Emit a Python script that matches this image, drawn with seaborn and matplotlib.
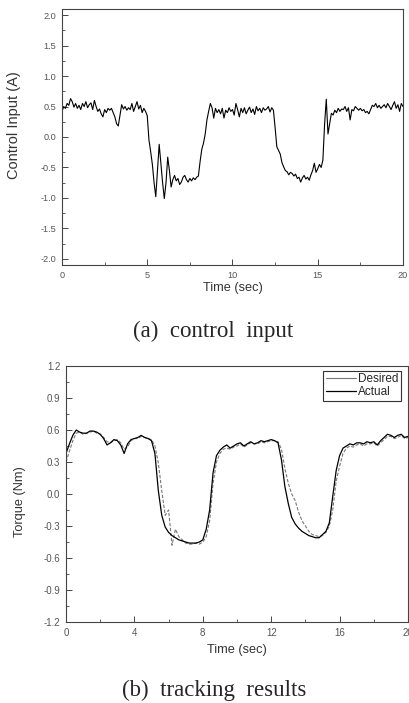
import numpy as np
import pandas as pd
import matplotlib
matplotlib.use("Agg")
import matplotlib.pyplot as plt
from matplotlib.ticker import MultipleLocator, FormatStrFormatter
from matplotlib.lines import Line2D
import seaborn as sns

# ---------------- data ----------------
# (a) control input, sampled every 0.1 s from 0 to 20 s
time_a = [round(0.1 * i, 1) for i in range(201)]
control_input = [
    0.42, 0.50, 0.47, 0.55, 0.52, 0.63, 0.58, 0.49, 0.55, 0.47,
    0.52, 0.45, 0.55, 0.50, 0.58, 0.48, 0.53, 0.56, 0.45, 0.60,
    0.50, 0.42, 0.46, 0.38, 0.33, 0.45, 0.40, 0.47, 0.44, 0.47,
    0.40, 0.33, 0.22, 0.18, 0.35, 0.53, 0.46, 0.50, 0.44, 0.48,
    0.45, 0.55, 0.42, 0.50, 0.58, 0.46, 0.52, 0.40, 0.47, 0.42,
    0.35, -0.05, -0.24, -0.45, -0.75, -0.98, -0.55, -0.12, -0.43, -0.75,
    -1.01, -0.75, -0.33, -0.55, -0.82, -0.70, -0.63, -0.72, -0.68, -0.78,
    -0.74, -0.66, -0.63, -0.70, -0.74, -0.68, -0.72, -0.67, -0.70, -0.66,
    -0.64, -0.40, -0.20, -0.10, 0.05, 0.28, 0.42, 0.55, 0.48, 0.31,
    0.47, 0.40, 0.45, 0.38, 0.47, 0.31, 0.44, 0.40, 0.48, 0.42,
    0.45, 0.36, 0.55, 0.45, 0.33, 0.47, 0.40, 0.48, 0.38, 0.44,
    0.49, 0.40, 0.46, 0.37, 0.50, 0.43, 0.47, 0.40, 0.48, 0.44,
    0.46, 0.50, 0.41, 0.48, 0.44, 0.15, -0.16, -0.22, -0.28, -0.42,
    -0.49, -0.55, -0.57, -0.62, -0.58, -0.60, -0.64, -0.61, -0.68, -0.66,
    -0.74, -0.67, -0.63, -0.69, -0.66, -0.71, -0.62, -0.55, -0.43, -0.58,
    -0.52, -0.45, -0.50, -0.38, 0.20, 0.62, 0.05, 0.22, 0.39, 0.36,
    0.44, 0.40, 0.47, 0.42, 0.46, 0.45, 0.50, 0.42, 0.48, 0.28,
    0.45, 0.43, 0.50, 0.47, 0.44, 0.47, 0.43, 0.45, 0.40, 0.42,
    0.38, 0.45, 0.52, 0.50, 0.55, 0.48, 0.52, 0.47, 0.50, 0.53,
    0.48, 0.55, 0.50, 0.45, 0.52, 0.58, 0.47, 0.53, 0.42, 0.55,
    0.50,
]

# (b) tracking results, sampled every 0.2 s from 0 to 20 s
time_b = [round(0.2 * i, 1) for i in range(101)]
torque_actual = [
    0.38, 0.47, 0.55, 0.60, 0.58, 0.57, 0.57, 0.59, 0.59, 0.58,
    0.56, 0.52, 0.46, 0.48, 0.51, 0.50, 0.46, 0.38, 0.47, 0.51,
    0.52, 0.53, 0.55, 0.53, 0.52, 0.50, 0.38, 0.03, -0.20, -0.31,
    -0.36, -0.39, -0.41, -0.43, -0.44, -0.45, -0.46, -0.46, -0.46, -0.45,
    -0.43, -0.33, -0.15, 0.20, 0.36, 0.41, 0.44, 0.46, 0.43, 0.45,
    0.47, 0.48, 0.45, 0.47, 0.49, 0.47, 0.48, 0.50, 0.49, 0.50,
    0.51, 0.50, 0.48, 0.32, 0.07, -0.09, -0.22, -0.28, -0.32, -0.35,
    -0.37, -0.39, -0.40, -0.41, -0.41, -0.38, -0.35, -0.27, -0.02, 0.22,
    0.36, 0.43, 0.45, 0.47, 0.46, 0.48, 0.48, 0.47, 0.49, 0.48,
    0.49, 0.46, 0.50, 0.53, 0.56, 0.55, 0.53, 0.55, 0.56, 0.53,
    0.54,
]
torque_desired = [
    0.30, 0.40, 0.50, 0.57, 0.58, 0.56, 0.57, 0.58, 0.59, 0.57,
    0.56, 0.53, 0.49, 0.48, 0.50, 0.51, 0.48, 0.42, 0.44, 0.50,
    0.52, 0.52, 0.54, 0.53, 0.52, 0.51, 0.45, 0.29, 0.03, -0.20,
    -0.15, -0.48, -0.33, -0.40, -0.43, -0.46, -0.47, -0.47, -0.46, -0.47,
    -0.45, -0.40, -0.25, 0.10, 0.30, 0.38, 0.42, 0.43, 0.42, 0.44,
    0.45, 0.47, 0.44, 0.46, 0.48, 0.47, 0.47, 0.49, 0.48, 0.49,
    0.50, 0.50, 0.49, 0.42, 0.24, 0.10, 0.00, -0.06, -0.17, -0.25,
    -0.30, -0.35, -0.38, -0.39, -0.40, -0.39, -0.36, -0.30, -0.15, 0.12,
    0.26, 0.38, 0.43, 0.45, 0.44, 0.46, 0.47, 0.45, 0.47, 0.47,
    0.48, 0.45, 0.48, 0.51, 0.54, 0.54, 0.52, 0.53, 0.55, 0.52,
    0.53,
]

caption_a = "(a)  control  input"
caption_b = "(b)  tracking  results"

# ---------------- style ----------------
sns.set_style("ticks")
plt.rcParams["font.family"] = ["Liberation Sans", "DejaVu Sans"]
plt.rcParams["axes.linewidth"] = 0.8

TICK_COLOR = "#555555"
SPINE_COLOR = "#444444"
LABEL_COLOR = "#333333"

fig = plt.figure(figsize=(4.10, 7.03), dpi=100)
ax1 = fig.add_axes([62 / 410, 1 - 265 / 703, 341 / 410, 256 / 703])
ax2 = fig.add_axes([66 / 410, 1 - 622 / 703, 342 / 410, 256 / 703])

df_a = pd.DataFrame({"t": time_a, "u": control_input})
sns.lineplot(data=df_a, x="t", y="u", ax=ax1, color="black", linewidth=0.8)

df_b = pd.DataFrame({
    "t": time_b + time_b,
    "torque": torque_desired + torque_actual,
    "series": ["Desired"] * len(time_b) + ["Actual"] * len(time_b),
})
sns.lineplot(data=df_b[df_b.series == "Desired"], x="t", y="torque", ax=ax2,
             color="#777777", linewidth=0.8, linestyle=(0, (3, 1.5)))
sns.lineplot(data=df_b[df_b.series == "Actual"], x="t", y="torque", ax=ax2,
             color="black", linewidth=0.9)


def style_axes(ax, ymaj, ymin, xmaj, xmin, lsize):
    for side in ["top", "right", "left", "bottom"]:
        ax.spines[side].set_visible(True)
        ax.spines[side].set_color(SPINE_COLOR)
        ax.spines[side].set_linewidth(0.8)
    ax.xaxis.set_major_locator(MultipleLocator(xmaj))
    ax.xaxis.set_minor_locator(MultipleLocator(xmin))
    ax.yaxis.set_major_locator(MultipleLocator(ymaj))
    ax.yaxis.set_minor_locator(MultipleLocator(ymin))
    ax.yaxis.set_major_formatter(FormatStrFormatter("%.1f"))
    ax.tick_params(which="both", direction="in", top=False, right=False,
                   color=SPINE_COLOR, labelcolor=TICK_COLOR, labelsize=lsize)
    ax.tick_params(which="major", length=4, width=0.7, pad=4)
    ax.tick_params(which="minor", length=2.5, width=0.6)
    ax.grid(False)


style_axes(ax1, 0.5, 0.25, 5, 2.5, 6.6)
ax1.set_xlim(0, 20)
ax1.set_ylim(-2.1, 2.1)
ax1.set_xlabel("Time (sec)", fontsize=9.2, color=LABEL_COLOR)
ax1.set_ylabel("Control Input (A)", fontsize=10.5, color=LABEL_COLOR)
ax1.xaxis.set_label_coords(0.5, -17 / 256)
ax1.xaxis.label.set_va("top")
ax1.yaxis.set_label_coords(-41 / 341, (265 - 125) / 256)

style_axes(ax2, 0.3, 0.15, 4, 2, 7)
ax2.set_xlim(0, 20)
ax2.set_ylim(-1.2, 1.2)
ax2.set_xlabel("Time (sec)", fontsize=9.2, color=LABEL_COLOR)
ax2.set_ylabel("Torque (Nm)", fontsize=9.2, color=LABEL_COLOR)
ax2.xaxis.set_label_coords(0.5, -22 / 256)
ax2.xaxis.label.set_va("top")
ax2.yaxis.set_label_coords(-40 / 342, (622 - 502) / 256)

handles = [Line2D([0], [0], color="#777777", linewidth=0.8),
           Line2D([0], [0], color="black", linewidth=0.9)]
leg = ax2.legend(handles, ["Desired", "Actual"], loc="upper right",
                 bbox_to_anchor=(1.0 - 7 / 342, 1.0 - 5 / 256),
                 fontsize=8.5, frameon=True, fancybox=False, framealpha=1,
                 edgecolor="#333333", borderpad=0.2, handlelength=2.6,
                 handletextpad=0.15, labelspacing=0.08, borderaxespad=0)
leg.get_frame().set_linewidth(0.8)

fig.text(0.52, 1 - 331 / 703, caption_a, ha="center", va="center",
         fontsize=16.5, family=["Liberation Serif", "DejaVu Serif"])
fig.text(0.522, 1 - 690 / 703, caption_b, ha="center", va="center",
         fontsize=16.5, family=["Liberation Serif", "DejaVu Serif"])

fig.savefig("out.png", dpi=100, facecolor="white")
